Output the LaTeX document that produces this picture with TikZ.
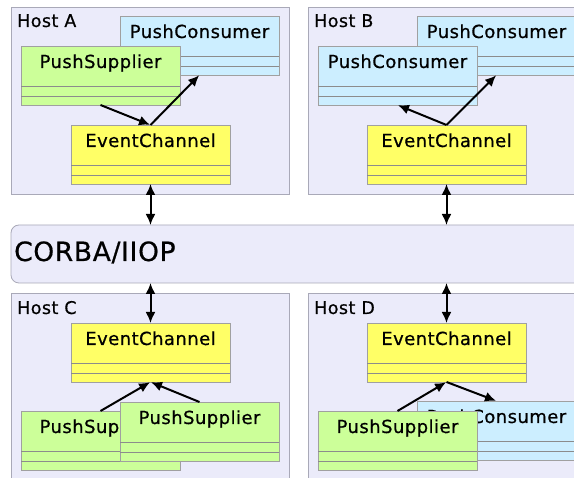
\documentclass[tikz,border=0pt]{standalone}
\usepackage{fontspec}
\setmainfont{DejaVu Sans}[RawFeature={embolden=0.6}, LetterSpace=2.5]
\usetikzlibrary{arrows.meta,calc}

\definecolor{hostfill}{HTML}{EBEBFA}
\definecolor{hostline}{HTML}{A9A9B8}
\definecolor{supfill}{HTML}{CCFF99}
\definecolor{confill}{HTML}{CCEEFF}
\definecolor{ecfill}{HTML}{FFFF66}
\definecolor{boxline}{HTML}{A0A0A0}
\definecolor{sepcol}{HTML}{8C8C8C}

\tikzset{
  hostbox/.style={draw=hostline, fill=hostfill, line width=0.8pt,
    inner sep=0pt, outer sep=0pt, anchor=north west},
  hostlabel/.style={inner sep=0pt, anchor=base west, font=\fontsize{17.5}{20}\selectfont},
  classbox/.style={draw=boxline, line width=0.8pt, minimum width=159pt,
    minimum height=59pt, inner sep=0pt, outer sep=0pt, anchor=north west},
  sepline/.style={draw=sepcol, line width=0.6pt},
  classname/.style={inner sep=0pt, anchor=base, font=\fontsize{18}{20}\selectfont},
  flow/.style={-{Latex[length=11pt,width=10pt]}, line width=2pt, shorten >=0.5pt},
  link/.style={{Latex[length=11pt,width=10pt]}-{Latex[length=11pt,width=10pt]}, line width=2pt},
}

% A UML class box: name, left, top, fill colour, title
\newcommand\umlclass[5]{%
  \node[classbox, fill=#4] (#1) at (#2,#3) {};
  \draw[sepline] ([yshift=-40pt]#1.north west) -- ([yshift=-40pt]#1.north east);
  \draw[sepline] ([yshift=-50pt]#1.north west) -- ([yshift=-50pt]#1.north east);
  \node[classname] (#1-t) at ([yshift=-22pt]#1.north) {#5};
}

\begin{document}
\begin{tikzpicture}[x=1pt, y=-1pt]
  \useasboundingbox (0,0) rectangle (574,478);
  \clip (0,0) rectangle (574,478);
  \fill[white] (0,0) rectangle (574,478);

  % hosts
  \node[hostbox, minimum width=278pt, minimum height=187pt] (hostA) at (11,7) {};
  \node[hostbox, minimum width=280pt, minimum height=187pt] (hostB) at (308,7) {};
  \node[hostbox, minimum width=278pt, minimum height=200pt] (hostC) at (11,293) {};
  \node[hostbox, minimum width=280pt, minimum height=200pt] (hostD) at (308,293) {};
  \node[hostlabel] (labA) at (17,27) {Host A};
  \node[hostlabel] (labB) at (314,27) {Host B};
  \node[hostlabel] (labC) at (17,314) {Host C};
  \node[hostlabel] (labD) at (314,314) {Host D};

  % network bus
  \node[draw=hostline, fill=hostfill, line width=0.8pt, rounded corners=8pt,
        minimum width=590pt, minimum height=58pt, inner sep=0pt, outer sep=0pt,
        anchor=north west] (corba) at (11,225) {};
  \node[inner sep=0pt, anchor=base west, font=\fontsize{26.5}{30}\selectfont]
        (corbaT) at (14,261) {CORBA/IIOP};

  % Host A
  \umlclass{aCon}{120}{16}{confill}{PushConsumer}
  \umlclass{aSup}{21}{46}{supfill}{PushSupplier}
  \umlclass{aEC}{71}{125}{ecfill}{EventChannel}

  % Host B
  \umlclass{bConR}{417}{16}{confill}{PushConsumer}
  \umlclass{bConL}{318}{46}{confill}{PushConsumer}
  \umlclass{bEC}{367}{125}{ecfill}{EventChannel}

  % Host C
  \umlclass{cEC}{71}{323}{ecfill}{EventChannel}
  \umlclass{cSupL}{21}{411}{supfill}{PushSupplier}
  \umlclass{cSupR}{120}{402}{supfill}{PushSupplier}

  % Host D
  \umlclass{dEC}{367}{323}{ecfill}{EventChannel}
  \umlclass{dCon}{417}{401}{confill}{PushConsumer}
  \umlclass{dSup}{318}{411}{supfill}{PushSupplier}

  % event flow inside the hosts
  \draw[flow] (aSup.south) -- (aEC.north);
  \draw[flow] (aEC.north) -- (aCon.south);
  \draw[flow] (bEC.north) -- (bConL.south);
  \draw[flow] (bEC.north) -- (bConR.south);
  \draw[flow] (cSupL.north) -- (cEC.south);
  \draw[flow] (cSupR.north) -- (cEC.south);
  \draw[flow] (dSup.north) -- (dEC.south);
  \draw[flow] (dEC.south) -- (dCon.north);

  % channels to the bus
  \draw[link] (aEC.south) -- (aEC.south |- corba.north);
  \draw[link] (bEC.south) -- (bEC.south |- corba.north);
  \draw[link] (cEC.north) -- (cEC.north |- corba.south);
  \draw[link] (dEC.north) -- (dEC.north |- corba.south);
\end{tikzpicture}
\end{document}
